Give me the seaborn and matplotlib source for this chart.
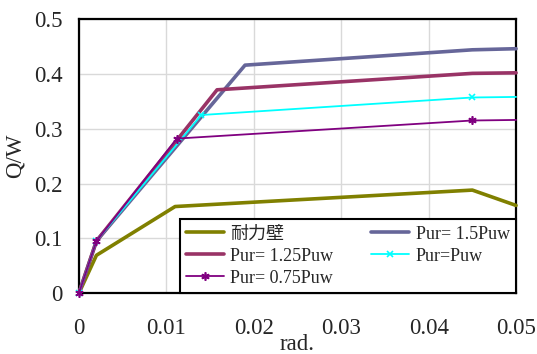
import matplotlib
matplotlib.use("Agg")
import matplotlib.pyplot as plt
import seaborn as sns
import pandas as pd

x_wall = [0, 0.002, 0.011, 0.045, 0.05]
y_wall = [0, 0.069, 0.158, 0.188, 0.160]

x_150 = [0, 0.002, 0.019, 0.045, 0.05]
y_150 = [0, 0.095, 0.416, 0.444, 0.446]

x_125 = [0, 0.002, 0.0158, 0.045, 0.05]
y_125 = [0, 0.095, 0.371, 0.401, 0.402]

x_100 = [0, 0.002, 0.014, 0.045, 0.05]
y_100 = [0, 0.095, 0.325, 0.357, 0.358]

x_075 = [0, 0.002, 0.0112, 0.045, 0.05]
y_075 = [0, 0.095, 0.282, 0.315, 0.316]

labels = ["耐力壁", "Pur= 1.5Puw", "Pur= 1.25Puw", "Pur=Puw", "Pur= 0.75Puw"]
x_ticks = [0, 0.01, 0.02, 0.03, 0.04, 0.05]
x_tick_labels = ["0", "0.01", "0.02", "0.03", "0.04", "0.05"]
y_ticks = [0, 0.1, 0.2, 0.3, 0.4, 0.5]
y_tick_labels = ["0", "0.1", "0.2", "0.3", "0.4", "0.5"]

sns.set_style("white")
plt.rcParams['font.family'] = ['Liberation Serif', 'Noto Sans CJK JP']

fig = plt.figure(figsize=(5.37, 3.54), dpi=100)
ax = fig.add_axes([0.147, 0.172, 0.814, 0.774])

series = [
    (x_wall, y_wall, labels[0], "#808000", 2.6, None, 0),
    (x_150, y_150, labels[1], "#666699", 2.6, None, 0),
    (x_125, y_125, labels[2], "#993366", 2.6, None, 0),
    (x_100, y_100, labels[3], "#00FFFF", 1.3, "x", 5),
    (x_075, y_075, labels[4], "#800080", 1.3, (6, 2, 0), 6),
]
handles = {}
for xs, ys, lab, col, lw, mk, ms in series:
    df = pd.DataFrame({"x": xs, "y": ys})
    kw = {}
    if mk is not None:
        kw = dict(marker=mk, markersize=ms, markevery=[0, 1, 2, 3],
                  markeredgecolor=col, markeredgewidth=1.2, markerfacecolor=col)
    sns.lineplot(data=df, x="x", y="y", ax=ax, color=col, linewidth=lw,
                 label=lab, sort=False, estimator=None, clip_on=False, zorder=3, **kw)
    handles[lab] = ax.lines[-1]

ax.set_xlim(0, 0.05)
ax.set_ylim(0, 0.5)
ax.set_xticks(x_ticks)
ax.set_xticklabels(x_tick_labels)
ax.set_yticks(y_ticks)
ax.set_yticklabels(y_tick_labels)
ax.tick_params(axis='x', length=0, pad=18, labelsize=16.5)
ax.tick_params(axis='y', length=0, pad=12, labelsize=16.5)
ax.grid(True, color="#d9d9d9", linewidth=1.0)
for s in ax.spines.values():
    s.set_color("black")
    s.set_linewidth(1.6)
    s.set_visible(True)
ax.set_xlabel("rad.", fontsize=16.5, labelpad=-4)
ax.set_ylabel("Q/W", fontsize=16.5, labelpad=6)

order = [labels[0], labels[2], labels[4], labels[1], labels[3]]
leg = ax.legend([handles[l] for l in order], order, ncol=2, loc="lower right",
                bbox_to_anchor=(1.0, 0.0), borderaxespad=0, frameon=True, fancybox=False,
                edgecolor="black", framealpha=1, fontsize=13,
                handlelength=2.1, columnspacing=2.1, borderpad=0.35,
                labelspacing=0.28, handletextpad=0.35)
leg.get_frame().set_linewidth(1.5)
leg.set_zorder(5)

fig.savefig("out.png", dpi=100)
